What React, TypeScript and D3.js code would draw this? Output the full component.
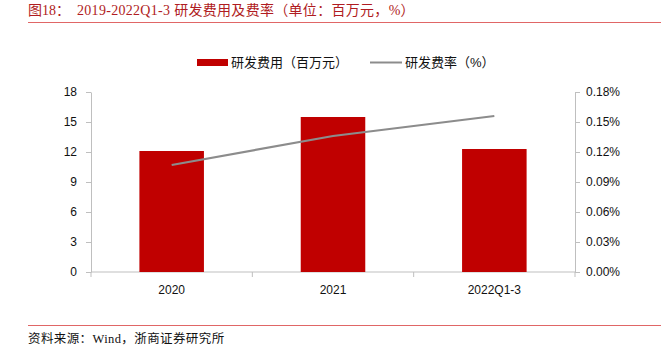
import React, { useEffect, useRef } from "react";
import * as d3 from "d3";

const categories = ["2020", "2021", "2022Q1-3"];
const rdExpense = [12.1, 15.5, 12.3]; // 百万元
const rdRate = [0.107, 0.136, 0.156]; // %
const leftTicks = [0, 3, 6, 9, 12, 15, 18];
const rightTicks = [0, 0.03, 0.06, 0.09, 0.12, 0.15, 0.18];

const App = () => {
  const svgRef = useRef<SVGSVGElement>(null);

  useEffect(() => {
    const width = 661;
    const height = 359;
    const margin = { top: 92, right: 86, bottom: 87, left: 91 };
    const innerW = width - margin.left - margin.right;
    const innerH = height - margin.top - margin.bottom;
    const sans = "'Liberation Sans', Arial, 'Noto Sans CJK SC', sans-serif";
    const serif = "'Liberation Serif', 'Times New Roman', 'Noto Sans CJK SC', serif";

    const svg = d3.select(svgRef.current);
    svg.selectAll("*").remove();
    svg.attr("width", width).attr("height", height);

    // title + rules
    const title = svg.append("text")
      .attr("x", 28).attr("y", 15)
      .attr("font-family", serif).attr("font-size", 14)
      .attr("fill", "#b01c22")
      .style("white-space", "pre");
    title.append("tspan").text("图18：");
    title.append("tspan").attr("x", 77).attr("letter-spacing", 0.3).text("2019-2022Q1-3 ");
    title.append("tspan").attr("letter-spacing", 0.3).text("研发费用及费率（单位：百万元，%）");
    svg.append("line").attr("x1", 28).attr("x2", width).attr("y1", 22.5).attr("y2", 22.5)
      .attr("stroke", "#e06666").attr("stroke-width", 1.2);
    svg.append("line").attr("x1", 28).attr("x2", width).attr("y1", 325.5).attr("y2", 325.5)
      .attr("stroke", "#e06666").attr("stroke-width", 1.2);
    svg.append("text")
      .attr("x", 28).attr("y", 343)
      .attr("font-family", serif).attr("font-size", 12.5)
      .attr("letter-spacing", 0.4)
      .attr("fill", "#111")
      .text("资料来源：Wind，浙商证券研究所");

    // legend
    const lg = svg.append("g").attr("font-family", sans).attr("font-size", 13).attr("fill", "#111");
    lg.append("rect").attr("x", 197).attr("y", 59).attr("width", 31).attr("height", 7).attr("fill", "#c00000");
    lg.append("text").attr("x", 231).attr("y", 67).text("研发费用（百万元）");
    lg.append("line").attr("x1", 370).attr("x2", 402).attr("y1", 62.5).attr("y2", 62.5)
      .attr("stroke", "#8c8c8c").attr("stroke-width", 2);
    lg.append("text").attr("x", 405).attr("y", 67).text("研发费率（%）");

    const g = svg.append("g").attr("transform", `translate(${margin.left},${margin.top})`);

    const x = d3.scaleBand().domain(categories).range([0, innerW]).paddingInner(0).paddingOuter(0);
    const yL = d3.scaleLinear().domain([0, 18]).range([innerH, 0]);
    const yR = d3.scaleLinear().domain([0, 0.18]).range([innerH, 0]);

    const axisColor = "#bfbfbf";
    const styleAxis = (sel: any) => {
      sel.select(".domain").attr("stroke", axisColor);
      sel.selectAll(".tick line").attr("stroke", axisColor);
      sel.selectAll(".tick text").attr("fill", "#111").attr("font-family", sans).attr("font-size", 12);
    };

    g.append("g")
      .call(d3.axisLeft(yL).tickValues(leftTicks).tickSize(5).tickSizeOuter(0).tickPadding(9))
      .call(styleAxis);
    g.append("g")
      .attr("transform", `translate(${innerW},0)`)
      .call(d3.axisRight(yR).tickValues(rightTicks).tickSize(5).tickSizeOuter(0).tickPadding(6)
        .tickFormat((d: any) => d3.format(".2f")(d) + "%"))
      .call(styleAxis);

    // bottom axis with ticks at band boundaries
    const bx = g.append("g").attr("transform", `translate(0,${innerH})`);
    bx.append("line").attr("x1", 0).attr("x2", innerW).attr("stroke", axisColor);
    [0, 1, 2, 3].forEach((i) => {
      const xp = i * x.bandwidth();
      bx.append("line").attr("x1", xp).attr("x2", xp).attr("y1", 0).attr("y2", 5).attr("stroke", axisColor);
    });
    categories.forEach((c) => {
      bx.append("text")
        .attr("x", (x(c) as number) + x.bandwidth() / 2).attr("y", 22)
        .attr("text-anchor", "middle")
        .attr("font-family", sans).attr("font-size", 12).attr("fill", "#111")
        .text(c);
    });

    // bars
    const bw = x.bandwidth() * 0.4;
    g.selectAll("rect.bar")
      .data(categories)
      .enter()
      .append("rect")
      .attr("class", "bar")
      .attr("x", (d) => (x(d) as number) + (x.bandwidth() - bw) / 2)
      .attr("width", bw)
      .attr("y", (d, i) => yL(rdExpense[i]))
      .attr("height", (d, i) => innerH - yL(rdExpense[i]))
      .attr("fill", "#c00000");

    // rate line
    const line = d3.line<number>()
      .x((d, i) => (x(categories[i]) as number) + x.bandwidth() / 2)
      .y((d) => yR(d));
    g.append("path")
      .datum(rdRate)
      .attr("d", line)
      .attr("fill", "none")
      .attr("stroke", "#8c8c8c")
      .attr("stroke-width", 2.2);
  }, []);

  return <svg ref={svgRef} style={{ position: "absolute", left: 0, top: 0 }}></svg>;
};

export default App;
